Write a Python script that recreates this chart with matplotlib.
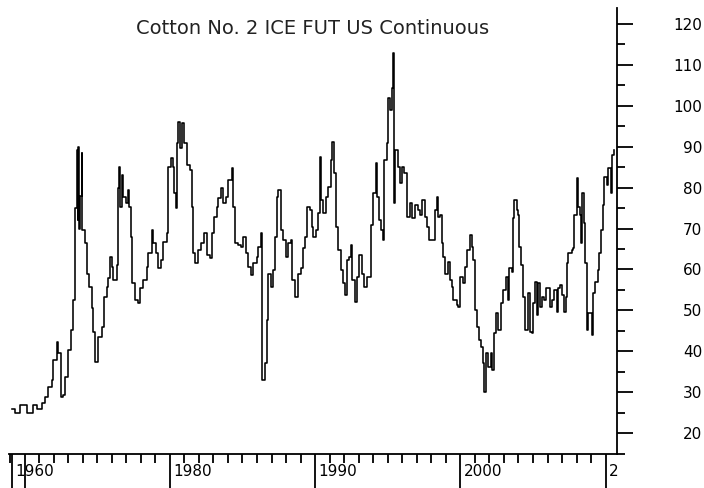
import matplotlib
matplotlib.use('Agg')
import matplotlib.pyplot as plt
import matplotlib.transforms as mtransforms
from matplotlib.ticker import FixedLocator, MultipleLocator

# Cotton No. 2 continuous contract (US cents / lb)
years = [1969.12, 1969.35, 1969.69, 1970.15, 1970.58, 1970.86, 1971.20, 1971.41, 1971.62, 1971.89,
         1971.96, 1972.24, 1972.31, 1972.49, 1972.65, 1972.79, 1972.99, 1973.18, 1973.34, 1973.48,
         1973.59, 1973.65, 1973.68, 1973.75, 1973.82, 1973.94, 1973.96, 1974.16, 1974.30, 1974.44,
         1974.65, 1974.71, 1974.85, 1975.06, 1975.33, 1975.47, 1975.68, 1975.75, 1975.88, 1976.02,
         1976.09, 1976.37, 1976.43, 1976.47, 1976.57, 1976.71, 1976.78, 1976.99, 1977.12, 1977.19,
         1977.33, 1977.40, 1977.61, 1977.81, 1977.95, 1978.16, 1978.43, 1978.50, 1978.77, 1978.84,
         1979.05, 1979.19, 1979.39, 1979.53, 1979.81, 1979.88, 1980.08, 1980.22, 1980.29, 1980.43,
         1980.50, 1980.56, 1980.70, 1980.84, 1980.98, 1981.18, 1981.39, 1981.53, 1981.60, 1981.73,
         1981.94, 1982.15, 1982.35, 1982.56, 1982.77, 1982.90, 1983.04, 1983.25, 1983.32, 1983.52,
         1983.66, 1983.87, 1984.01, 1984.28, 1984.35, 1984.49, 1984.69, 1984.90, 1985.04, 1985.24,
         1985.38, 1985.59, 1985.73, 1986.00, 1986.07, 1986.28, 1986.35, 1986.55, 1986.69, 1986.76,
         1986.96, 1987.10, 1987.24, 1987.38, 1987.45, 1987.65, 1987.79, 1988.00, 1988.13, 1988.34,
         1988.41, 1988.62, 1988.82, 1989.03, 1989.17, 1989.30, 1989.44, 1989.65, 1989.79, 1989.86,
         1990.06, 1990.20, 1990.34, 1990.41, 1990.54, 1990.75, 1990.89, 1991.09, 1991.16, 1991.30,
         1991.44, 1991.57, 1991.78, 1991.92, 1992.06, 1992.20, 1992.33, 1992.47, 1992.54, 1992.75,
         1992.88, 1993.02, 1993.23, 1993.37, 1993.57, 1993.71, 1993.85, 1993.98, 1994.19, 1994.26,
         1994.40, 1994.54, 1994.67, 1994.74, 1994.95, 1995.02, 1995.16, 1995.29, 1995.36, 1995.43,
         1995.46, 1995.50, 1995.71, 1995.84, 1995.98, 1996.12, 1996.32, 1996.53, 1996.67, 1996.87,
         1997.08, 1997.22, 1997.36, 1997.56, 1997.70, 1997.84, 1998.11, 1998.25, 1998.39, 1998.46,
         1998.60, 1998.73, 1998.80, 1998.94, 1999.14, 1999.28, 1999.42, 1999.49, 1999.76, 1999.83,
         1999.97, 2000.18, 2000.31, 2000.45, 2000.66, 2000.80, 2000.87, 2001.01, 2001.14, 2001.28,
         2001.42, 2001.56, 2001.62, 2001.76, 2001.90, 2002.11, 2002.17, 2002.31, 2002.45, 2002.59,
         2002.79, 2002.93, 2003.14, 2003.27, 2003.34, 2003.55, 2003.62, 2003.69, 2003.89, 2003.96,
         2004.03, 2004.17, 2004.31, 2004.45, 2004.65, 2004.79, 2004.93, 2005.00, 2005.13, 2005.27,
         2005.34, 2005.48, 2005.62, 2005.75, 2005.89, 2006.03, 2006.17, 2006.30, 2006.44, 2006.65,
         2006.72, 2006.85, 2006.99, 2007.13, 2007.27, 2007.34, 2007.41, 2007.68, 2007.75, 2007.82,
         2008.02, 2008.09, 2008.23, 2008.30, 2008.37, 2008.51, 2008.57, 2008.71, 2008.78, 2008.99,
         2009.06, 2009.13, 2009.26, 2009.47, 2009.54, 2009.68, 2009.81, 2009.88, 2010.09, 2010.16,
         2010.36, 2010.43, 2010.57]
prices = [25.9, 24.9, 26.8, 24.9, 26.8, 26.0, 27.3, 28.8, 31.2, 33.0,
          37.8, 42.2, 39.6, 28.8, 29.3, 33.7, 40.3, 45.2, 52.5, 75.0,
          89.2, 72.0, 90.0, 70.0, 78.0, 88.5, 69.6, 66.5, 59.0, 55.7,
          50.6, 44.7, 37.4, 43.5, 46.0, 53.3, 55.7, 58.0, 63.0, 60.6,
          57.4, 61.0, 80.0, 85.0, 75.3, 83.0, 77.7, 76.2, 79.4, 75.3,
          68.0, 56.7, 52.5, 51.8, 55.5, 57.4, 60.6, 64.0, 69.6, 66.5,
          64.0, 60.3, 62.3, 66.7, 68.9, 85.0, 87.2, 85.0, 78.7, 75.0,
          90.9, 96.0, 89.7, 95.8, 91.0, 85.5, 84.3, 75.3, 64.0, 61.6,
          64.7, 66.5, 68.9, 63.5, 62.8, 68.9, 72.8, 75.3, 77.5, 79.9,
          76.2, 77.7, 81.9, 84.8, 75.3, 66.5, 66.0, 65.5, 67.9, 64.0,
          60.6, 58.6, 61.6, 63.0, 65.5, 68.9, 33.0, 37.1, 47.6, 59.0,
          55.7, 59.9, 67.9, 77.7, 79.4, 69.6, 67.2, 63.0, 66.5, 67.2,
          57.4, 53.3, 59.0, 60.3, 65.2, 67.9, 75.3, 74.5, 70.4, 67.9,
          69.6, 73.8, 87.5, 77.0, 73.8, 77.7, 80.1, 86.7, 91.1, 83.6,
          70.4, 64.7, 59.9, 56.7, 53.7, 62.3, 63.0, 66.0, 57.4, 52.0,
          58.1, 63.5, 59.0, 55.7, 58.1, 58.1, 70.9, 78.7, 86.0, 77.7,
          72.0, 69.6, 67.2, 86.7, 90.9, 102.0, 99.0, 104.4, 112.9, 112.9,
          76.2, 89.2, 85.0, 81.1, 85.0, 83.6, 72.8, 76.2, 72.6, 75.7,
          74.5, 73.3, 77.0, 72.8, 70.4, 67.2, 67.2, 74.5, 77.7, 72.8,
          73.3, 66.5, 63.0, 59.0, 61.8, 57.4, 55.7, 52.5, 51.3, 50.8,
          58.1, 56.7, 60.6, 64.7, 68.4, 65.5, 62.3, 50.1, 45.9, 42.7,
          41.0, 37.1, 30.0, 39.6, 36.1, 39.6, 35.4, 44.4, 49.3, 45.2,
          51.8, 55.0, 58.1, 52.5, 60.3, 59.4, 72.6, 77.0, 74.5, 73.3,
          65.5, 61.0, 53.3, 45.2, 54.2, 44.7, 44.4, 51.8, 56.9, 48.9,
          56.7, 50.8, 53.3, 52.5, 55.5, 55.5, 50.8, 52.5, 55.0, 49.6,
          55.5, 56.2, 53.7, 49.6, 53.3, 61.6, 64.0, 64.7, 65.2, 73.3,
          82.3, 75.3, 73.3, 66.5, 78.7, 71.3, 61.6, 45.2, 49.3, 49.3,
          44.0, 54.2, 56.9, 59.9, 64.0, 69.6, 75.7, 82.6, 80.6, 84.8,
          78.7, 88.0, 89.2]

# Axis ticks and labels as shown on the reference
x_major = [1969.14, 1970, 1980, 1990, 2000, 2010]
x_labels = ['1960', '', '1980', '1990', '2000', '2']
y_major = [20, 30, 40, 50, 60, 70, 80, 90, 100, 110, 120]
title = 'Cotton No. 2 ICE FUT US Continuous'

fig = plt.figure(figsize=(7.04, 4.88), dpi=100)
ax = fig.add_axes([9 / 704, 1 - 454 / 488, 608 / 704, 446 / 488])

ax.plot(years, prices, color='black', linewidth=1.15, drawstyle='steps-post')

ax.set_xlim(1968.93, 2010.78)
ax.set_ylim(14.9, 123.9)

# --- spines: only the bottom and right lines ---
for side in ['left', 'top']:
    ax.spines[side].set_visible(False)
for side in ['bottom', 'right']:
    ax.spines[side].set_linewidth(1.3)

# --- y axis on the right ---
ax.yaxis.tick_right()
ax.yaxis.set_major_locator(FixedLocator(y_major))
ax.yaxis.set_minor_locator(MultipleLocator(5))
ax.tick_params(axis='y', which='major', direction='out', length=11.5, width=1.3,
               pad=50, labelsize=11)
ax.tick_params(axis='y', which='minor', direction='out', length=5.8, width=1.3)
for lab in ax.get_yticklabels():
    lab.set_horizontalalignment('right')

# --- x axis: long major ticks with labels sitting to their right ---
ax.xaxis.set_major_locator(FixedLocator(x_major))
ax.xaxis.set_minor_locator(MultipleLocator(1))
ax.set_xticklabels(x_labels)
ax.tick_params(axis='x', which='major', direction='out', length=24.5, width=1.3,
               pad=-17, labelsize=11)
ax.tick_params(axis='x', which='minor', direction='out', length=6.5, width=1.3)
shift = mtransforms.ScaledTranslation(0.03, 0, fig.dpi_scale_trans)
for lab in ax.get_xticklabels():
    lab.set_horizontalalignment('left')
    lab.set_transform(lab.get_transform() + shift)

ax.text(0.5, 0.955, title, transform=ax.transAxes, ha='center', va='center',
        fontsize=14, color='#222222')

fig.savefig('out.png', dpi=100)
